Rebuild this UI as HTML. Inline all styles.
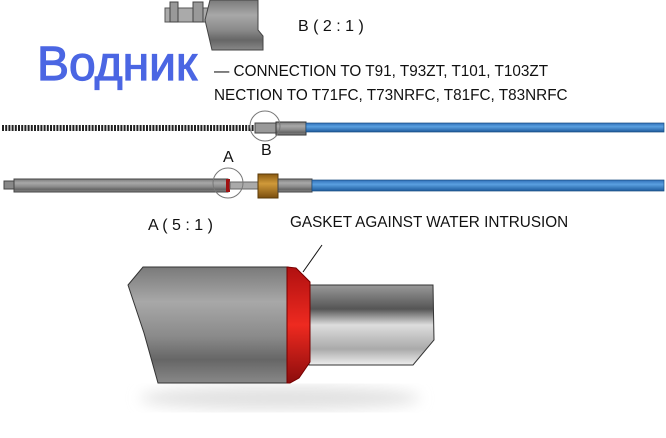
<!DOCTYPE html>
<html><head><meta charset="utf-8"><style>
body{margin:0;width:666px;height:438px;background:#fff;overflow:hidden;position:relative;font-family:"Liberation Sans",sans-serif}
.t{position:absolute;color:#111;white-space:nowrap}
</style></head><body>
<svg width="666" height="438" style="position:absolute;left:0;top:0">
<defs>
<linearGradient id="g" x1="0" y1="0" x2="0" y2="1"><stop offset="0" stop-color="#7a7a7a"/><stop offset=".3" stop-color="#a8a8a8"/><stop offset=".6" stop-color="#8a8a8a"/><stop offset=".8" stop-color="#666"/><stop offset="1" stop-color="#888"/></linearGradient>
<linearGradient id="g2" x1="0" y1="0" x2="0" y2="1"><stop offset="0" stop-color="#999"/><stop offset=".3" stop-color="#555"/><stop offset=".5" stop-color="#ddd"/><stop offset=".8" stop-color="#aaa"/><stop offset="1" stop-color="#eee"/></linearGradient>
<linearGradient id="b" x1="0" y1="0" x2="0" y2="1"><stop offset="0" stop-color="#2f6fb8"/><stop offset=".4" stop-color="#5aa0e0"/><stop offset="1" stop-color="#1d5a9c"/></linearGradient>
<linearGradient id="r" x1="0" y1="0" x2="0" y2="1"><stop offset="0" stop-color="#b01010"/><stop offset=".5" stop-color="#ee2a20"/><stop offset="1" stop-color="#8c0c0c"/></linearGradient>
<linearGradient id="n" x1="0" y1="0" x2="0" y2="1"><stop offset="0" stop-color="#8a5a10"/><stop offset=".4" stop-color="#d09a3a"/><stop offset="1" stop-color="#7a4e0e"/></linearGradient>
<filter id="s"><feGaussianBlur stdDeviation="7"/></filter>
</defs>
<rect x="165" y="8" width="55" height="14" fill="#aaa" stroke="#555"/>
<rect x="170" y="2" width="8" height="20" fill="#999" stroke="#444"/>
<rect x="193" y="2" width="10" height="20" fill="#999" stroke="#444"/>
<path d="M210 0 H258 V30 L263 36 V50 H212 L205 20 Z" fill="url(#g)" stroke="#444"/>
<line x1="2" y1="128" x2="260" y2="128" stroke="#222" stroke-width="6" stroke-dasharray="2 1.2"/>
<rect x="255" y="123" width="22" height="10" fill="#999" stroke="#444"/>
<rect x="276" y="122" width="30" height="13" fill="url(#g)" stroke="#333"/>
<rect x="306" y="123" width="358" height="9" fill="url(#b)" stroke="#1a4d80" stroke-width=".7"/>
<circle cx="265" cy="126" r="15" fill="none" stroke="#777"/>
<rect x="4" y="181" width="12" height="8" fill="#888" stroke="#444"/>
<rect x="14" y="179" width="214" height="13" fill="url(#g)" stroke="#444"/>
<rect x="226" y="179" width="4" height="13" fill="#a01010"/>
<rect x="230" y="182" width="28" height="7" fill="#aaa" stroke="#666"/>
<rect x="258" y="174" width="20" height="24" fill="url(#n)" stroke="#5a3a08"/>
<rect x="278" y="179" width="34" height="13" fill="url(#g)" stroke="#444"/>
<rect x="312" y="180" width="352" height="11" fill="url(#b)" stroke="#1a4d80" stroke-width=".7"/>
<circle cx="228" cy="183" r="15" fill="none" stroke="#777"/>
<ellipse cx="280" cy="398" rx="140" ry="12" fill="#e2e2e2" filter="url(#s)"/>
<path d="M143 267 H288 V383 H158 L144 333 L128 285 Z" fill="url(#g)" stroke="#333"/>
<path d="M309 285 H433 L434 340 L413 365 H309 Z" fill="url(#g2)" stroke="#333"/>
<path d="M287 267 L296 268 L310 282 V362 L299 378 L290 383 H287 Z" fill="url(#r)" stroke="#700"/>
<line x1="303" y1="272" x2="322" y2="245" stroke="#111"/>
</svg>
<div class="t" style="left:37px;top:37px;font-size:48px;color:#4b66e3;-webkit-text-stroke:1.2px #4b66e3;letter-spacing:0">Водник</div>
<div class="t" style="left:298px;top:18px;font-size:16px">B ( 2 : 1 )</div>
<div class="t" style="left:214px;top:63px;font-size:15.3px">— CONNECTION TO T91, T93ZT, T101, T103ZT</div>
<div class="t" style="left:214px;top:87px;font-size:15.3px">NECTION TO T71FC, T73NRFC, T81FC, T83NRFC</div>
<div class="t" style="left:261px;top:142px;font-size:16px">B</div>
<div class="t" style="left:223px;top:149px;font-size:16px">A</div>
<div class="t" style="left:148px;top:217px;font-size:16px">A ( 5 : 1 )</div>
<div class="t" style="left:290px;top:214px;font-size:15.3px">GASKET AGAINST WATER INTRUSION</div>
</body></html>
